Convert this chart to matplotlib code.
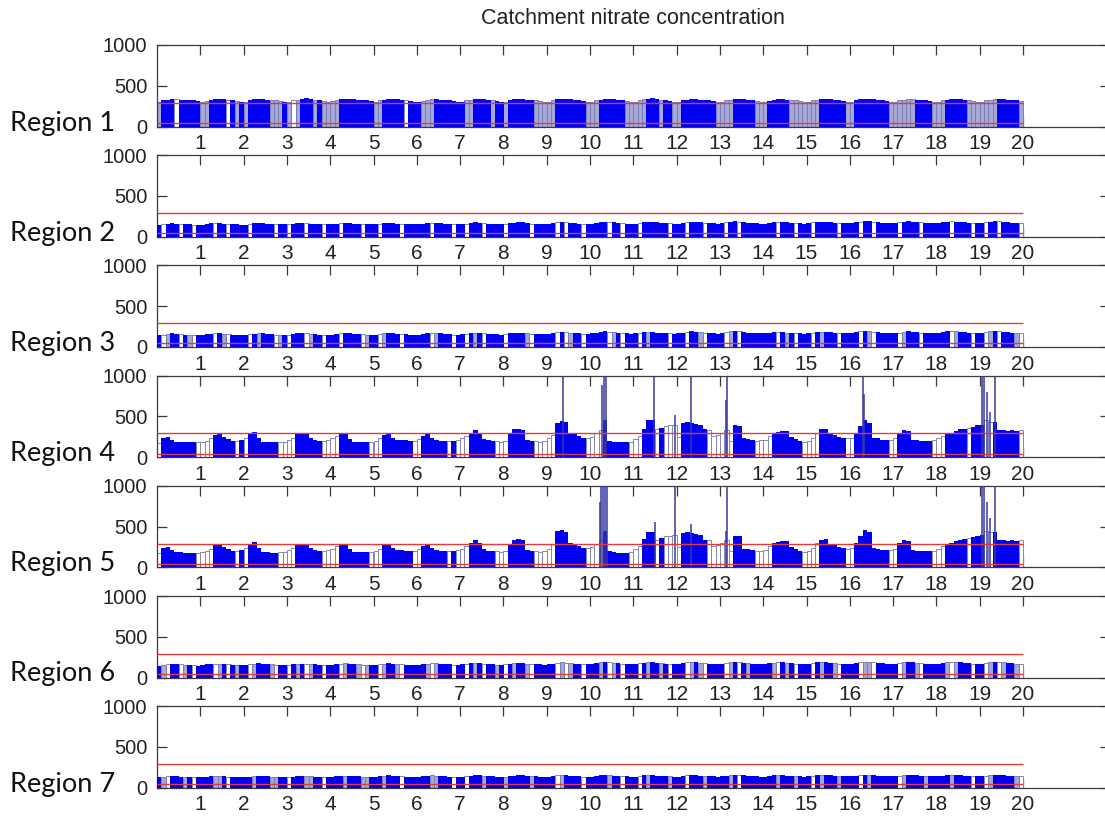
import numpy as np
import matplotlib
matplotlib.use("Agg")
import matplotlib.pyplot as plt

# ---------------- data ----------------
title = "Catchment nitrate concentration"
region_names = ["Region 1", "Region 2", "Region 3", "Region 4", "Region 5", "Region 6", "Region 7"]
xtick_values = list(range(1, 21))
ytick_values = [0, 500, 1000]
step = 0.1            # years per bar
threshold_high = 290  # red reference lines
threshold_low = 42

region1 = [
 300,320,330,335,335,330,330,325,320,310, 305,315,330,335,340,335,330,325,315,305,
 300,320,335,340,335,330,325,320,310,300, 305,320,330,340,345,335,330,320,315,305,
 310,325,335,340,340,335,330,325,320,310, 305,320,330,340,340,335,330,325,315,305,
 300,315,330,340,335,330,325,320,310,300, 305,320,330,335,340,335,330,320,315,305,
 300,320,335,340,340,330,325,320,310,300, 305,325,335,340,340,335,330,325,315,305,
 300,320,330,335,340,335,330,320,315,305, 305,320,335,340,345,340,330,325,315,305,
 300,320,330,340,335,330,325,320,310,305, 305,320,330,335,340,335,330,325,315,300,
 300,315,330,335,335,330,325,320,310,300, 305,320,330,340,340,335,330,320,315,305,
 300,320,335,340,340,335,330,325,315,305, 305,320,330,335,335,330,325,320,310,300,
 300,320,330,340,340,335,330,325,315,305, 305,320,330,340,340,335,330,325,320,310]
codes1 = ("2111011111" "2211110121" "2111112221" "2021112122" "2211111111"
          "2211111011" "1222111111" "1221111211" "2111111222" "2211111112"
          "2211111122" "2221112112" "2111111112" "2221111122" "2111112222"
          "2221111112" "2111111112" "2222211112" "2211111222" "2222111112")

region2 = [
 140,150,160,165,160,155,150,150,145,145, 145,155,165,170,165,160,155,150,150,145,
 145,155,165,170,165,160,155,150,150,150, 150,160,165,170,170,160,155,150,150,150,
 150,155,165,170,165,160,155,155,150,150, 150,160,170,170,165,160,155,155,150,150,
 150,160,165,170,170,165,160,155,150,150, 155,160,170,175,170,165,160,155,155,150,
 155,165,170,175,175,165,160,160,155,155, 155,165,175,180,175,170,165,160,160,155,
 160,170,180,185,180,175,170,165,160,160, 160,170,180,185,185,175,170,165,165,160,
 160,170,180,185,180,175,170,170,165,160, 165,175,185,190,185,175,170,165,165,160,
 160,170,180,185,180,175,170,165,165,160, 165,175,180,185,185,180,170,170,165,165,
 165,175,185,190,190,180,175,170,165,165, 165,175,185,190,185,180,175,170,165,165,
 165,175,185,190,185,180,175,170,170,165, 170,180,185,190,190,185,175,170,170,165]
codes2 = ("1011101101" "1110110111" "1011111011" "0111011101" "1101111011"
          "1011110111" "1110111101" "1011101111" "0111110111" "1101011101"
          "1111011011" "1011111101" "1101110111" "1011011111" "1110111011"
          "1011111011" "1101101111" "1011110111" "1110111101" "1011011110")

region3 = [
 145,150,160,165,160,155,150,150,145,145, 145,155,160,165,165,160,155,150,150,145,
 145,155,160,165,165,160,155,150,150,150, 150,155,165,170,165,160,155,150,150,150,
 150,155,165,170,165,160,155,155,150,150, 150,160,165,170,165,160,155,155,150,150,
 150,160,165,170,170,165,160,155,150,150, 155,160,170,175,170,165,160,155,155,150,
 155,165,170,175,175,165,160,160,155,155, 160,170,180,185,180,175,170,165,160,160,
 165,175,185,190,185,180,175,170,165,160, 165,175,180,185,185,175,170,165,165,160,
 165,175,185,190,185,180,175,170,165,160, 170,180,190,195,190,180,175,170,165,165,
 165,175,180,185,185,175,170,165,165,160, 165,175,180,185,185,180,170,170,165,165,
 170,180,190,195,195,185,180,175,170,165, 165,175,185,190,185,180,175,170,165,165,
 170,180,190,195,190,185,180,175,170,165, 170,180,190,195,190,185,180,175,170,165]
codes3 = ("1021101201" "1110120111" "1012111021" "0111021101" "1101111021"
          "1021110111" "1110211101" "1012101111" "0111120111" "1101021101"
          "1111021011" "1012111101" "1101120111" "1021011111" "1110121011"
          "1012111011" "1101201111" "1021110111" "1110211101" "1021011120")

region4 = [
 170,240,250,210,190,185,180,180,180,180, 185,200,230,270,290,250,220,200,200,210,
 240,280,310,240,190,185,180,180,185,190, 210,240,280,290,285,240,210,200,200,210,
 230,260,290,285,220,190,185,185,185,190, 200,230,270,280,240,215,210,205,200,200,
 220,260,285,240,210,200,195,195,200,210, 230,260,300,330,300,220,205,200,195,190,
 200,290,340,350,330,210,200,195,190,200, 230,270,420,440,430,300,280,260,240,235,
 250,290,330,450,200,185,180,180,180,190, 220,260,350,450,450,340,360,380,390,400,
 250,420,430,420,410,400,340,330,260,270, 300,330,200,390,380,230,220,210,200,205,
 210,260,300,310,320,320,250,220,200,185, 200,240,300,340,350,280,270,250,240,230,
 240,300,380,450,420,236,230,215,210,215, 230,300,330,320,210,205,203,200,200,205,
 230,260,280,300,320,340,350,360,370,390, 400,450,430,430,330,330,325,330,320,330]
codes4 = ("0111111110" "0001111101" "0111111100" "0011111100" "0011111110"
          "0011111110" "0111111010" "0011111100" "0111111000" "0011111110"
          "0001111110" "0011101000" "0111111000" "0001111100" "0011111110"
          "0001111110" "0111111110" "0111111110" "0011111011" "1001111110")
spikes4_x = [9.38, 10.27, 10.33, 10.37, 11.47, 11.97, 12.33, 13.15, 13.17,
             16.30, 16.33, 19.06, 19.10, 19.17, 19.24, 19.36]
spikes4_y = [1000, 880, 1000, 1000, 1000, 520, 1000, 700, 1000,
             1000, 780, 1000, 1000, 800, 550, 1000]

region5 = [
 170,235,250,210,190,185,180,180,180,180, 185,200,230,270,290,250,220,200,200,210,
 240,280,310,240,190,185,180,180,185,190, 210,240,280,290,285,240,210,200,200,210,
 230,260,290,285,220,190,185,185,185,190, 200,230,270,280,240,215,210,205,200,200,
 220,260,285,240,210,200,195,195,200,210, 230,260,300,330,300,220,205,200,195,190,
 200,290,340,350,330,210,200,195,190,200, 230,280,440,455,430,300,280,260,240,235,
 250,290,330,450,200,185,180,180,180,190, 220,260,350,430,430,340,360,380,390,400,
 250,420,430,420,410,400,340,330,260,270, 300,330,200,390,380,230,220,210,200,205,
 210,260,300,310,320,320,250,220,200,185, 200,240,300,340,350,280,270,250,240,230,
 240,300,390,460,430,236,230,215,210,215, 230,300,330,320,210,205,203,200,200,205,
 230,260,280,300,320,340,350,360,370,390, 400,450,430,430,330,330,325,330,320,330]
codes5 = codes4
spikes5_x = [10.22, 10.26, 10.30, 10.34, 10.39, 11.49, 11.97, 12.33, 13.14, 13.16,
             19.06, 19.10, 19.17, 19.24, 19.36]
spikes5_y = [800, 1000, 1000, 1000, 1000, 560, 1000, 530, 450, 1000,
             1000, 1000, 800, 600, 1000]

region6 = [
 145,155,165,170,165,160,155,150,150,145, 150,160,165,170,170,165,160,155,150,150,
 150,160,170,175,170,165,160,155,150,150, 150,160,165,170,170,165,160,155,150,150,
 155,160,170,175,170,165,160,155,155,150, 155,165,170,175,170,165,160,155,155,150,
 155,165,170,175,175,170,165,160,155,155, 160,165,175,180,175,170,165,160,155,155,
 160,170,175,180,180,170,165,165,160,155, 160,170,180,185,180,175,170,165,160,160,
 165,175,185,190,185,180,175,170,165,160, 165,175,180,185,185,180,175,170,165,160,
 165,175,185,190,185,180,175,170,165,165, 165,175,185,190,185,180,175,170,165,165,
 165,175,180,185,185,180,175,170,165,160, 165,175,185,190,185,180,175,170,165,165,
 170,180,190,195,190,185,180,175,170,165, 165,175,185,190,185,180,175,170,165,165,
 170,180,190,195,190,185,180,175,170,165, 170,180,190,195,195,185,180,175,170,165]
codes6 = ("1201102101" "1110210121" "1021112011" "0121021101" "1102112021"
          "1021120111" "1120211101" "1012101121" "0121120111" "1102021101"
          "1121021011" "1012112101" "1102120111" "1021012111" "1120121011"
          "1012112011" "1102201111" "1021120111" "1120211101" "1021021120")

region7 = [
 130,135,140,140,140,135,135,130,130,130, 130,135,140,145,140,140,135,135,130,130,
 130,135,140,145,145,140,135,135,130,130, 130,135,140,145,145,140,135,135,130,130,
 130,140,145,145,145,140,140,135,135,130, 135,140,145,150,145,140,140,135,135,130,
 135,140,145,150,145,140,140,135,135,135, 135,140,145,150,150,145,140,140,135,135,
 135,140,145,150,150,145,140,140,135,135, 135,145,150,150,150,145,140,140,135,135,
 135,145,150,155,150,145,145,140,140,135, 135,145,150,155,150,145,145,140,140,135,
 135,145,150,155,150,145,145,140,140,135, 140,145,150,155,155,150,145,140,140,135,
 135,145,150,155,150,145,145,140,140,135, 140,145,150,155,155,150,145,140,140,140,
 140,145,150,155,155,150,145,145,140,140, 140,145,150,155,150,150,145,140,140,140,
 140,145,150,155,155,150,145,145,140,140, 140,145,150,155,155,150,145,145,140,140]
codes7 = ("1201112101" "1112210111" "1121112211" "0111221101" "1112111221"
          "1121110111" "1112211101" "1011121111" "2111112111" "1102111101"
          "1111211011" "1012111121" "1101112111" "1121011111" "1112111211"
          "1012111211" "1101211111" "1021111211" "1112111101" "1021111120")

regions = [
    (region1, codes1, [], []),
    (region2, codes2, [], []),
    (region3, codes3, [], []),
    (region4, codes4, spikes4_x, spikes4_y),
    (region5, codes5, spikes5_x, spikes5_y),
    (region6, codes6, [], []),
    (region7, codes7, [], []),
]

# ---------------- figure ----------------
W, H = 1105, 817
fig = plt.figure(figsize=(W / 100, H / 100), dpi=100)
fig.patch.set_facecolor("white")

ax_left_px = 157
px_per_unit = 43.3
xmax = 22
ax_w_px = px_per_unit * xmax
ax_h_px = 81.5
first_top = 45
spacing = 110.2

tick_font = "Liberation Sans"
spine_col = "#3a3a3a"

for i, (vals, codes, sx, sy) in enumerate(regions):
    top = first_top + spacing * i
    ax = fig.add_axes([ax_left_px / W, 1 - (top + ax_h_px) / H, ax_w_px / W, ax_h_px / H])
    vals = np.asarray(vals, dtype=float)
    c = np.array([int(ch) for ch in codes])
    x = np.arange(len(vals)) * step + step / 2

    m0 = c == 0
    m2 = c == 2
    m1 = c == 1
    ax.bar(x[m0], vals[m0], width=step, facecolor="white", edgecolor="#8486b4",
           linewidth=0.7, zorder=2)
    ax.bar(x[m2], vals[m2], width=step, facecolor="#a6a9d8", edgecolor="#7c7fb6",
           linewidth=0.7, zorder=2)
    ax.bar(x[m1], vals[m1], width=step * 1.06, facecolor="#0000f5", edgecolor="none",
           linewidth=0, zorder=3)
    if len(sx):
        ax.vlines(sx, 0, sy, colors="#3838a0", linewidth=1.1, zorder=4)

    ax.hlines([threshold_high, threshold_low], 0, 20, colors="#e33b3b", linewidth=1.0, zorder=5)

    ax.set_xlim(0, xmax)
    ax.set_ylim(0, 1000)
    ax.set_xticks(xtick_values)
    ax.set_xticklabels([str(v) for v in xtick_values], fontsize=15, family=tick_font)
    ax.set_yticks(ytick_values)
    ax.set_yticklabels([str(v) for v in ytick_values], fontsize=14.5, family=tick_font)
    ax.tick_params(axis="x", direction="in", length=7, width=0.9, color=spine_col,
                   top=True, bottom=True, pad=5.5, labelcolor="#222222")
    ax.tick_params(axis="y", direction="in", length=7, width=0.9, color=spine_col,
                   left=True, right=True, pad=7, labelcolor="#222222")
    for s in ax.spines.values():
        s.set_color(spine_col)
        s.set_linewidth(0.9)
    ax.set_facecolor("none")

    fig.text(10 / W, 1 - (top + ax_h_px + 4) / H, region_names[i], fontsize=19.5,
             family="Lato", ha="left", va="baseline", color="#111111")

fig.text((ax_left_px + ax_w_px / 2) / W, 1 - 19 / H, title, fontsize=15.5,
         family=tick_font, ha="center", va="center", color="#222222")

fig.savefig("out.png", dpi=100, facecolor="white")
